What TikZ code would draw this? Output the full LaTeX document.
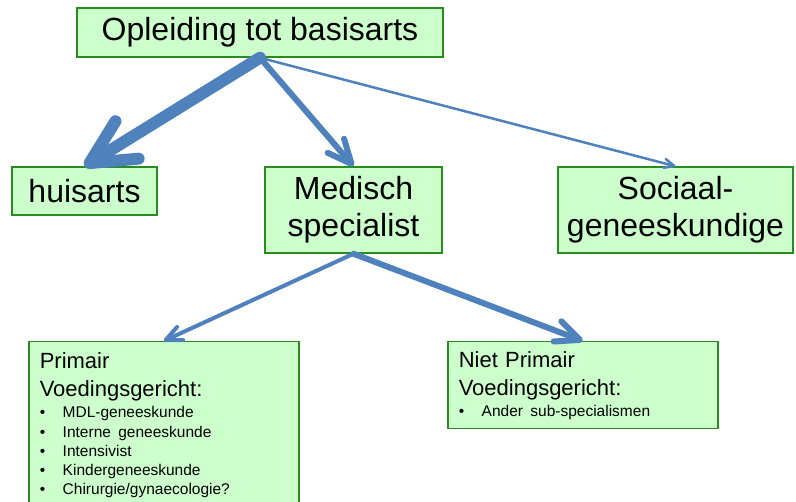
\documentclass[tikz,border=0pt]{standalone}
\usepackage{fontspec}
\setmainfont{Liberation Sans}
\usetikzlibrary{arrows.meta}
\definecolor{boxfill}{RGB}{204,255,204}
\definecolor{boxline}{RGB}{40,140,30}
\definecolor{flowblue}{RGB}{79,129,189}
\newcommand{\bul}[1]{\makebox[23pt][l]{\textbullet}\mbox{#1}}

\begin{document}
\begin{tikzpicture}[x=1pt,y=-1pt,
    box/.style={draw=boxline, line width=1.5pt, fill=boxfill, inner sep=0pt, align=center,
        font=\fontsize{32}{37}\selectfont},
    listbox/.style={box, anchor=north west, align=left, inner xsep=11pt,
        font=\fontsize{22}{19}\selectfont},
    link/.style={draw=flowblue, line cap=round,
        -{Straight Barb[length=0pt 4, width=0pt 3.6, round]}}]
    \useasboundingbox (0,0) rectangle (796,502);
    \node[box, minimum width=366pt, minimum height=49pt] (basis) at (260,32.5) {Opleiding tot basisarts};
    \node[box, minimum width=145pt, minimum height=48pt] (huis) at (84.5,191) {huisarts};
    \node[box, minimum width=177pt, minimum height=86pt] (med) at (353.5,210) {Medisch\\specialist};
    \node[box, minimum width=235pt, minimum height=86pt] (soc) at (675.5,210) {Sociaal-\\geneeskundige};
    \node[listbox, text width=248pt, minimum height=166pt] (prim) at (28,341) {%
        Primair\\[9pt]Voedingsgericht:\\[2pt]\fontsize{15.5}{19}\selectfont
        \bul{MDL-geneeskunde}\\[1pt]
        \bul{Interne geneeskunde}\\
        \bul{Intensivist}\\
        \bul{Kindergeneeskunde}\\
        \bul{Chirurgie/gynaecologie?}};
    \node[listbox, text width=248pt, minimum height=87pt] (niet) at (447,341) {%
        Niet Primair\\[9pt]Voedingsgericht:\\[2pt]\fontsize{15.5}{19}\selectfont
        \bul{Ander sub-specialismen}};
    \draw[link, line width=12pt, -{Straight Barb[length=44pt, width=44pt, round]}] (basis.south) -- (huis.north);
    \draw[link, line width=6pt] (basis.south) -- (med.north);
    \draw[link, line width=2.5pt] (basis.south) -- (soc.north);
    \draw[link, line width=4pt] (med.south) -- (prim.north);
    \draw[link, line width=6pt] (med.south) -- (niet.north);
\end{tikzpicture}
\end{document}
